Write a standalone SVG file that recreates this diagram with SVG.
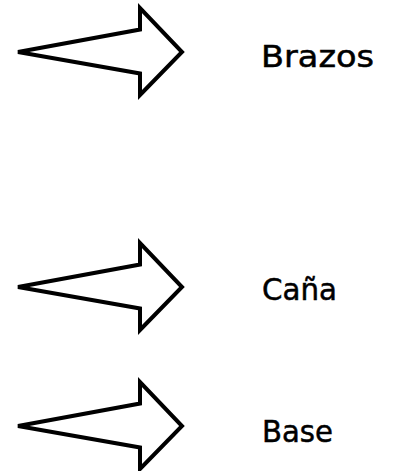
<svg xmlns="http://www.w3.org/2000/svg" width="394" height="471" viewBox="0 0 394 471">
<defs>
<style>
.arrow{fill:#fff;stroke:#000;stroke-width:4;stroke-linejoin:miter;stroke-miterlimit:4}
.label{font-family:"DejaVu Sans",sans-serif;font-size:30px;fill:#000;stroke:#000;stroke-width:0.5}
</style>
<path id="arr" d="M0,0 L122,-22.5 L122,-44 L164,0 L122,43 L122,21.5 Z"/>
</defs>
<rect width="394" height="471" fill="#fff"/>
<g id="connectors"/>
<g id="node-brazos">
<use href="#arr" class="arrow" x="18" y="52"/>
<text class="label" x="261" y="67" textLength="113" lengthAdjust="spacingAndGlyphs">Brazos</text>
</g>
<g id="node-cana">
<use href="#arr" class="arrow" x="18" y="287"/>
<text class="label" x="262" y="300" textLength="75" lengthAdjust="spacingAndGlyphs">Caña</text>
</g>
<g id="node-base">
<use href="#arr" class="arrow" x="18" y="426"/>
<text class="label" x="262" y="442" textLength="71" lengthAdjust="spacingAndGlyphs">Base</text>
</g>
</svg>
